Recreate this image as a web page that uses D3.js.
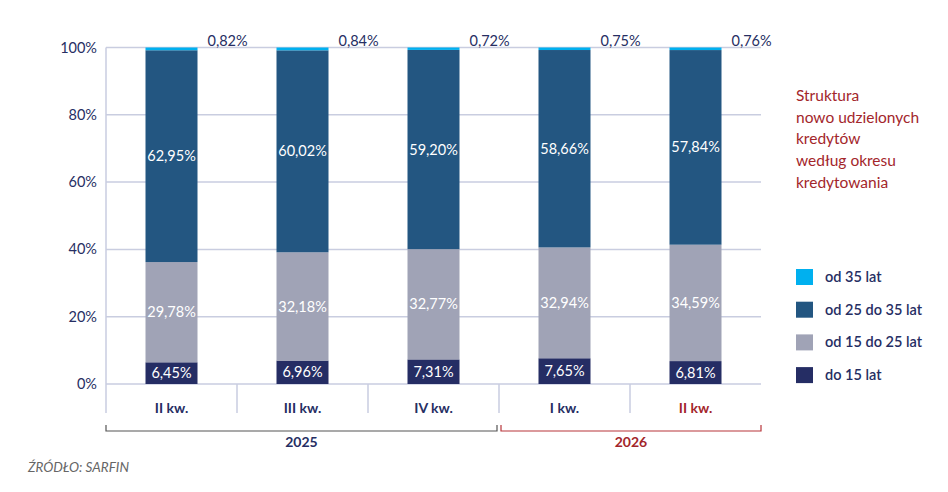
<!DOCTYPE html>
<meta charset="utf-8">
<title>Struktura kredytów</title>
<style>
body { margin: 0; background: #fff; font-family: Lato, "Open Sans", sans-serif; }
svg text { font-family: Lato, "Open Sans", sans-serif; }
</style>
<body>
<svg id="chart" width="948" height="492"></svg>
<script src="https://cdn.jsdelivr.net/npm/d3@7"></script>
<script>
// dane
const quarters = ["II kw.", "III kw.", "IV kw.", "I kw.", "II kw."];
const years = ["2025", "2025", "2025", "2026", "2026"];
const do15 = [6.45, 6.96, 7.31, 7.65, 6.81];
const od15do25 = [29.78, 32.18, 32.77, 32.94, 34.59];
const od25do35 = [62.95, 60.02, 59.20, 58.66, 57.84];
const od35 = [0.82, 0.84, 0.72, 0.75, 0.76];
const yTicks = [0, 20, 40, 60, 80, 100];
const seriesNames = ["do 15 lat", "od 15 do 25 lat", "od 25 do 35 lat", "od 35 lat"];
const title = ["Struktura", "nowo udzielonych", "kredytów", "według okresu", "kredytowania"];

const colors = ["#252d64", "#a0a3b6", "#235681", "#00b0ef"];
const navy = "#262e63", red = "#a3262b", grid = "#c9cde0";

const rows = quarters.map((q, i) => ({
  key: i, q: q, year: years[i],
  s0: do15[i], s1: od15do25[i], s2: od25do35[i], s3: od35[i]
}));
const stack = d3.stack().keys(["s0", "s1", "s2", "s3"])(rows);

const svg = d3.select("#chart");
const x = d3.scaleBand().domain(rows.map(d => d.key)).range([106, 761]).paddingInner(0).paddingOuter(0);
const y = d3.scaleLinear().domain([0, 100]).range([384, 47.5]);
const barW = 52;
const fmt = v => v.toFixed(2).replace(".", ",") + "%";

// siatka
svg.append("g").selectAll("line").data(yTicks).join("line")
  .attr("x1", 106).attr("x2", 761)
  .attr("y1", d => y(d)).attr("y2", d => y(d))
  .attr("stroke", grid).attr("stroke-width", 1.5);
svg.append("line").attr("x1", 106).attr("x2", 106).attr("y1", y(100)).attr("y2", 413)
  .attr("stroke", grid).attr("stroke-width", 1.5);
svg.append("g").selectAll("line").data(rows.slice(1)).join("line")
  .attr("x1", d => x(d.key)).attr("x2", d => x(d.key))
  .attr("y1", 384).attr("y2", 413)
  .attr("stroke", grid).attr("stroke-width", 1.5);

// oś Y
svg.append("g").selectAll("text").data(yTicks).join("text")
  .attr("x", 97).attr("y", d => y(d)).attr("dy", "0.35em")
  .attr("text-anchor", "end").attr("fill", navy).attr("font-size", 14.5)
  .text(d => d + "%");

// słupki
const layers = svg.append("g").selectAll("g").data(stack).join("g")
  .attr("fill", (d, i) => colors[i]);
layers.selectAll("rect").data(d => d).join("rect")
  .attr("x", d => x(d.data.key) + (x.bandwidth() - barW) / 2)
  .attr("width", barW)
  .attr("y", d => y(d[1]))
  .attr("height", d => y(d[0]) - y(d[1]));

// etykiety wewnątrz
stack.slice(0, 3).forEach(layer => {
  svg.append("g").selectAll("text").data(layer).join("text")
    .attr("x", d => x(d.data.key) + x.bandwidth() / 2)
    .attr("y", d => y((d[0] + d[1]) / 2)).attr("dy", "0.35em")
    .attr("text-anchor", "middle").attr("fill", "#fff").attr("font-size", 14.5)
    .text(d => fmt(d[1] - d[0]));
});
// etykiety górne
svg.append("g").selectAll("text").data(stack[3]).join("text")
  .attr("x", d => x(d.data.key) + (x.bandwidth() + barW) / 2 + 10)
  .attr("y", 41).attr("dy", "0.35em")
  .attr("fill", navy).attr("font-size", 14.5)
  .text(d => fmt(d[1] - d[0]));

// kategorie
svg.append("g").selectAll("text").data(rows).join("text")
  .attr("x", d => x(d.key) + x.bandwidth() / 2).attr("y", 408).attr("dy", "0.35em")
  .attr("text-anchor", "middle").attr("font-weight", "bold").attr("font-size", 14)
  .attr("fill", (d, i) => i === rows.length - 1 ? red : navy)
  .text(d => d.q);

// klamry lat
const groups = d3.groups(rows, d => d.year);
groups.forEach(([yr, items], gi) => {
  const x0 = x(items[0].key) + (gi === 0 ? 0 : 2);
  const x1 = x(items[items.length - 1].key) + x.bandwidth() - (gi === 0 ? 2 : 0);
  const c = gi === 0 ? "#555" : "#b8353a";
  svg.append("path")
    .attr("d", `M${x0},425V431H${x1}V425`)
    .attr("fill", "none").attr("stroke", c).attr("stroke-width", 1.2);
  svg.append("text")
    .attr("x", (x0 + x1) / 2).attr("y", 442).attr("dy", "0.35em")
    .attr("text-anchor", "middle").attr("font-weight", "bold").attr("font-size", 14)
    .attr("fill", gi === 0 ? navy : red).text(yr);
});

// tytuł
svg.append("text").attr("fill", red).attr("font-size", 15.5)
  .selectAll("tspan").data(title).join("tspan")
  .attr("x", 796).attr("y", (d, i) => 101 + i * 21.7)
  .text(d => d);

// legenda
const legend = svg.append("g").selectAll("g").data(seriesNames.slice().reverse()).join("g")
  .attr("transform", (d, i) => `translate(796,${269 + i * 32.7})`);
legend.append("rect").attr("width", 17).attr("height", 16)
  .attr("fill", (d, i) => colors[3 - i]);
legend.append("text").attr("x", 29).attr("y", 8).attr("dy", "0.35em")
  .attr("fill", navy).attr("font-size", 14.5).attr("font-weight", 600)
  .text(d => d);

// źródło
svg.append("text").attr("x", 28).attr("y", 467).attr("dy", "0.35em")
  .attr("font-style", "italic").attr("fill", "#666").attr("font-size", 13.5)
  .text("ŹRÓDŁO: SARFIN");
</script>
</body>
